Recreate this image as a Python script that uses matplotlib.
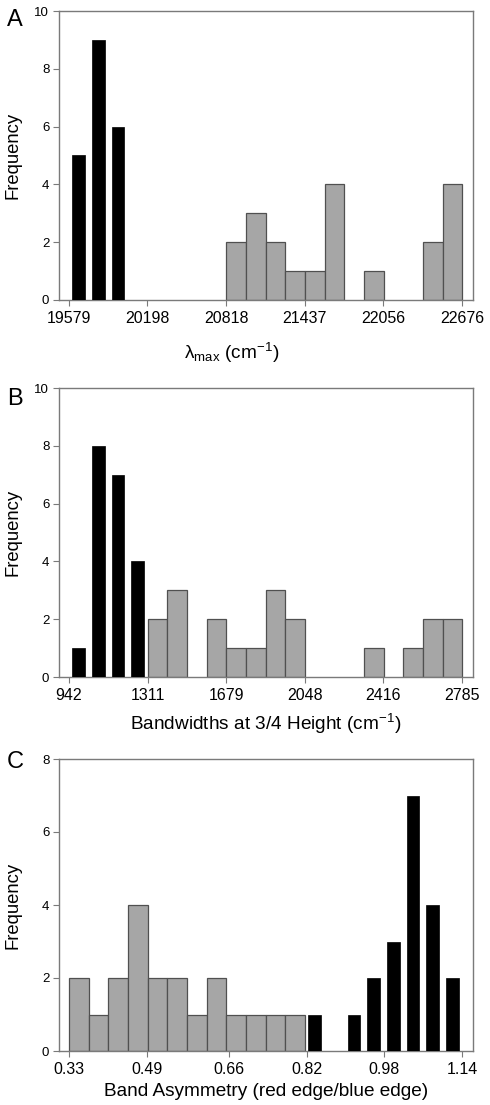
import matplotlib
matplotlib.use("Agg")
import matplotlib.pyplot as plt
import numpy as np

plt.rcParams['font.family'] = ['Liberation Sans', 'DejaVu Sans']
plt.rcParams['mathtext.fontset'] = 'custom'
plt.rcParams['mathtext.rm'] = 'Liberation Sans'
plt.rcParams['mathtext.it'] = 'Liberation Sans:italic'
plt.rcParams['mathtext.cal'] = 'Liberation Sans'

# ---- Data ----
# Panel A: lambda max (cm^-1), 20 bins between first and last tick
a_ticks = [19579, 20198, 20818, 21437, 22056, 22676]
a_black = [5, 9, 6, 0, 0, 0, 0, 0, 0, 0, 0, 0, 0, 0, 0, 0, 0, 0, 0, 0]
a_gray = [0, 0, 0, 0, 0, 0, 0, 0, 2, 3, 2, 1, 1, 4, 0, 1, 0, 0, 2, 4]

# Panel B: bandwidths at 3/4 height (cm^-1)
b_ticks = [942, 1311, 1679, 2048, 2416, 2785]
b_black = [1, 8, 7, 4, 0, 0, 0, 0, 0, 0, 0, 0, 0, 0, 0, 0, 0, 0, 0, 0]
b_gray = [0, 0, 0, 0, 2, 3, 0, 2, 1, 1, 3, 2, 0, 0, 0, 1, 0, 1, 2, 2]

# Panel C: band asymmetry
c_ticks = [0.33, 0.49, 0.66, 0.82, 0.98, 1.14]
c_black = [0, 0, 0, 0, 0, 0, 0, 0, 0, 0, 0, 0, 1, 0, 1, 2, 3, 7, 4, 2]
c_gray = [2, 1, 2, 4, 2, 2, 1, 2, 1, 1, 1, 1, 0, 0, 0, 0, 0, 0, 0, 0]

GRAY = '#a6a6a6'
EDGE = '#505050'
SPINE = '#7a7a7a'

W, H = 490, 1105
fig = plt.figure(figsize=(W / 100, H / 100), dpi=100)


def panel(rect_px, ticks, black, gray, ymax, xlabel, letter, letter_base,
          xlabel_center_px, ticklabels):
    l, t, r, b = rect_px
    ax = fig.add_axes([l / W, 1 - b / H, (r - l) / W, (b - t) / H])
    start, end = ticks[0], ticks[-1]
    nb = len(black)
    w = (end - start) / nb
    edges = start + w * np.arange(nb)
    centers = edges + w / 2
    gray = np.array(gray)
    black = np.array(black)
    gm = gray > 0
    bm = black > 0
    ax.bar(edges[gm], gray[gm], width=w, align='edge', color=GRAY,
           edgecolor=EDGE, linewidth=0.9, zorder=2)
    ax.bar(centers[bm], black[bm], width=w * 0.63, align='center',
           color='black', edgecolor='black', linewidth=0.5, zorder=3)
    ax.set_xlim(start - 0.5 * w, start + 20.55 * w)
    ax.set_ylim(0, ymax)
    ax.set_xticks(ticks)
    ax.set_xticklabels(ticklabels, fontsize=11.5)
    ax.set_yticks(np.arange(0, ymax + 1, 2))
    ax.tick_params(axis='y', labelsize=9.5, direction='out', length=4,
                   color=SPINE, pad=3)
    ax.tick_params(axis='x', direction='out', length=4, color=SPINE, pad=4)
    for s in ax.spines.values():
        s.set_color(SPINE)
        s.set_linewidth(1.0)
    ax.set_ylabel('Frequency', fontsize=13.3)
    ax.yaxis.label.set_va('center')
    ax.yaxis.set_label_coords((13 - l) / (r - l), 0.5)
    ax.set_xlabel(xlabel, fontsize=13.7)
    ax.xaxis.label.set_va('center')
    cx, cy = xlabel_center_px
    ax.xaxis.set_label_coords((cx - l) / (r - l), (b - cy) / (b - t))
    fig.text(7 / W, 1 - letter_base / H, letter, fontsize=17,
             va='baseline', ha='left')
    return ax


panel((59, 11, 473, 300), a_ticks, a_black, a_gray, 10,
      'λ$_{\\mathrm{max}}$ (cm$^{-1}$)', 'A', 26, (232, 353),
      [str(v) for v in a_ticks])
panel((59, 388, 473, 677), b_ticks, b_black, b_gray, 10,
      'Bandwidths at 3/4 Height (cm$^{-1}$)', 'B', 405, (266, 724),
      [str(v) for v in b_ticks])
panel((59, 759, 473, 1051), c_ticks, c_black, c_gray, 8,
      'Band Asymmetry (red edge/blue edge)', 'C', 768, (266, 1092),
      ['%.2f' % v for v in c_ticks])

fig.savefig('out.png', dpi=100)
